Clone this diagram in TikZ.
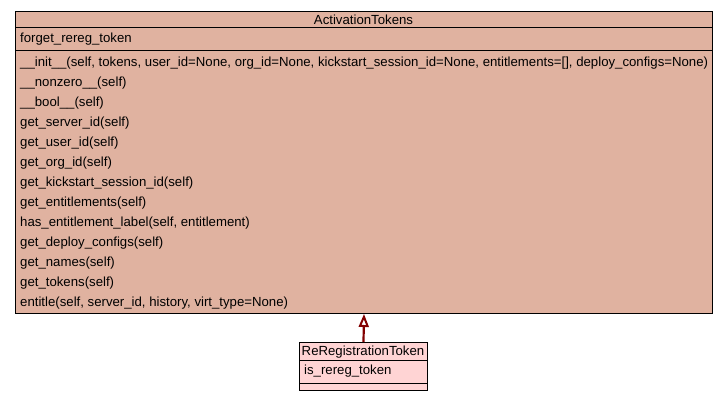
\documentclass[tikz,border=0pt]{standalone}
\usepackage{fontspec}
\setmainfont{Liberation Sans}
\usetikzlibrary{arrows.meta}
\definecolor{bigfill}{RGB}{224,178,160}
\definecolor{smallfill}{RGB}{255,212,212}
\definecolor{arrowc}{RGB}{130,0,0}
\begin{document}
\begin{tikzpicture}[x=1pt,y=-1pt,
  box/.style={draw=black,line width=1pt,anchor=north west,inner sep=0pt},
  lbl/.style={anchor=west,inner sep=0pt,font=\fontsize{13.2}{15}\selectfont},
  ttl/.style={anchor=center,inner sep=0pt,font=\fontsize{13.2}{15}\selectfont}]
\useasboundingbox (0,0) rectangle (728,401);
% big class
\node[box,fill=bigfill,minimum width=697pt,minimum height=302pt] (AT) at (15,11) {};
\draw[line width=1pt] (15,28) -- (712,28);
\draw[line width=1pt] (15,51) -- (712,51);
\node[ttl] (ATt) at (363.5,20) {ActivationTokens};
\node[lbl] (a1) at (20,39.5) {forget\_rereg\_token};
\foreach \t [count=\i from 0] in {
 {\_\_init\_\_(self, tokens, user\_id=None, org\_id=None, kickstart\_session\_id=None, entitlements=[], deploy\_configs=None)},
 {\_\_nonzero\_\_(self)},
 {\_\_bool\_\_(self)},
 {get\_server\_id(self)},
 {get\_user\_id(self)},
 {get\_org\_id(self)},
 {get\_kickstart\_session\_id(self)},
 {get\_entitlements(self)},
 {has\_entitlement\_label(self, entitlement)},
 {get\_deploy\_configs(self)},
 {get\_names(self)},
 {get\_tokens(self)},
 {entitle(self, server\_id, history, virt\_type=None)}}
 {\node[lbl] (m\i) at (20,63+20*\i) {\t};}
% small class
\node[box,fill=smallfill,minimum width=128pt,minimum height=48pt] (RR) at (299,342) {};
\draw[line width=1pt] (299,360) -- (427,360);
\draw[line width=1pt] (299,383) -- (427,383);
\node[ttl] (RRt) at (363,352) {ReRegistrationToken};
\node[lbl] (r1) at (304,371.5) {is\_rereg\_token};
% generalization
\draw[arrowc,line width=2.2pt,-{Triangle[open,width=10pt,length=13pt,line width=2pt]}] (RR.north) -- (AT.south);
\end{tikzpicture}
\end{document}
